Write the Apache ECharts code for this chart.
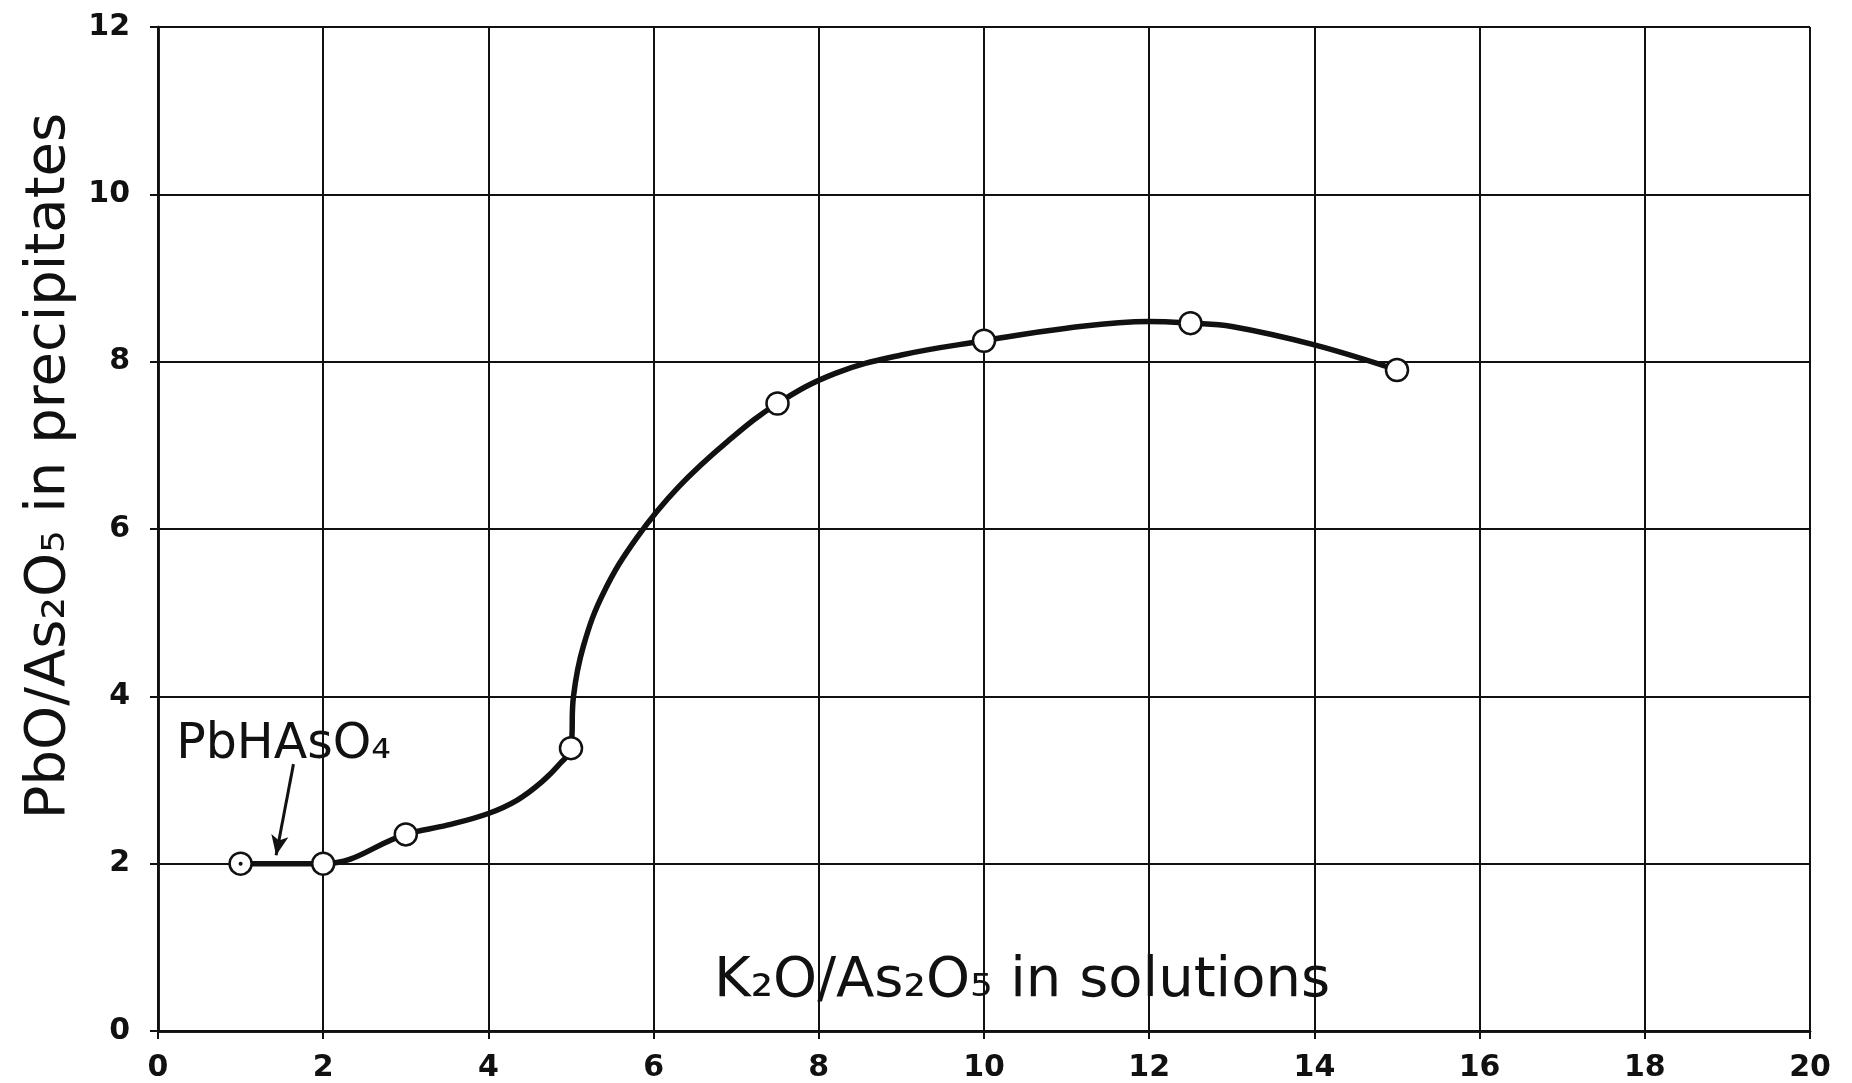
<!DOCTYPE html>
<html>
<head>
<meta charset="utf-8">
<title>PbO/As2O5 vs K2O/As2O5</title>
<script src="https://cdn.jsdelivr.net/npm/echarts@6/dist/echarts.min.js"></script>
<style>
  html, body { margin: 0; padding: 0; background: #fff; }
  #main { width: 1852px; height: 1083px; }
</style>
</head>
<body>
<div id="main"></div>
<script>
// measured points (open circles)
const pointsX = [1, 2, 3, 5, 7.5, 10, 12.5, 15];
const pointsY = [2, 2, 2.35, 3.38, 7.5, 8.25, 8.46, 7.9];

// hand drawn curve
const curveX = [1, 2, 3, 3.5, 4, 4.35, 4.65, 4.87, 5, 5.03, 5.15, 5.4, 5.8, 6.3, 6.9, 7.5, 8.2, 9, 10, 11, 12, 12.5, 13, 14, 15];
const curveY = [2, 2, 2.35, 2.46, 2.6, 2.76, 2.98, 3.2, 3.38, 4.0, 4.6, 5.25, 5.9, 6.5, 7.05, 7.5, 7.86, 8.08, 8.25, 8.4, 8.48, 8.46, 8.42, 8.2, 7.9];

// axis ranges / ticks
const xTicks = [0, 2, 4, 6, 8, 10, 12, 14, 16, 18, 20];
const yTicks = [0, 2, 4, 6, 8, 10, 12];

// annotation
const noteText = 'PbHAsO₄';
const notePos = [0.22, 3.42];
const arrowFrom = [1.64, 3.19];
const arrowTo = [1.43, 2.1];

let chart = echarts.init(document.getElementById('main'));
let ink = '#111';
let font = 'DejaVu Sans';

let option = {
    backgroundColor: '#fff',
    animation: false,
    grid: {
        left: 158,
        right: 42,
        top: 27,
        bottom: 52,
        containLabel: false
    },
    xAxis: [{
        type: 'value',
        min: xTicks[0],
        max: xTicks[xTicks.length - 1],
        interval: 2,
        name: 'K₂O/As₂O₅ in solutions',
        nameLocation: 'middle',
        nameGap: -78,
        nameTextStyle: {
            color: ink,
            fontFamily: font,
            fontSize: 56,
            padding: [0, 0, 0, 76]
        },
        axisLine: { lineStyle: { color: ink, width: 2.5 } },
        axisTick: { show: true, length: 8, lineStyle: { color: ink, width: 2 } },
        axisLabel: {
            margin: 22,
            color: ink,
            fontFamily: font,
            fontWeight: 'bold',
            fontSize: 30
        },
        splitLine: { show: true, lineStyle: { color: ink, width: 2 } }
    }, {
        // top frame, ticks poke out a bit
        type: 'value',
        position: 'top',
        min: xTicks[0],
        max: xTicks[xTicks.length - 1],
        interval: 2,
        axisLine: { show: true, lineStyle: { color: ink, width: 2.5 } },
        axisTick: { show: true, length: 8, lineStyle: { color: ink, width: 2 } },
        axisLabel: { show: false },
        splitLine: { show: false }
    }],
    yAxis: [{
        type: 'value',
        min: yTicks[0],
        max: yTicks[yTicks.length - 1],
        interval: 2,
        name: 'PbO/As₂O₅ in precipitates',
        nameLocation: 'middle',
        nameGap: 67,
        nameRotate: 90,
        nameTextStyle: {
            color: ink,
            fontFamily: font,
            fontSize: 56,
            padding: [0, 0, 0, 126]
        },
        axisLine: { show: true, lineStyle: { color: ink, width: 2.5 } },
        axisTick: { show: true, length: 8, lineStyle: { color: ink, width: 2 } },
        axisLabel: {
            margin: 28,
            color: ink,
            fontFamily: font,
            fontWeight: 'bold',
            fontSize: 30
        },
        splitLine: { show: true, lineStyle: { color: ink, width: 2 } }
    }, {
        type: 'value',
        position: 'right',
        min: yTicks[0],
        max: yTicks[yTicks.length - 1],
        interval: 2,
        axisLine: { show: true, lineStyle: { color: ink, width: 2.5 } },
        axisTick: { show: true, length: 7, lineStyle: { color: ink, width: 2 } },
        axisLabel: { show: false },
        splitLine: { show: false }
    }],
    series: [{
        name: 'curve',
        type: 'line',
        data: curveX.map((x, i) => [x, curveY[i]]),
        smooth: 0.4,
        showSymbol: false,
        lineStyle: { color: ink, width: 5.5 },
        z: 3
    }, {
        name: 'points',
        type: 'scatter',
        data: pointsX.map((x, i) => [x, pointsY[i]]),
        symbol: 'circle',
        symbolSize: 22,
        itemStyle: {
            color: '#fff',
            borderColor: ink,
            borderWidth: 2.5,
            opacity: 1
        },
        z: 5,
        markPoint: {
            silent: true,
            symbol: 'circle',
            symbolSize: 0,
            data: [{ coord: notePos }],
            label: {
                show: true,
                position: 'right',
                distance: 0,
                formatter: noteText,
                color: ink,
                fontFamily: font,
                fontSize: 49
            }
        },
        markLine: {
            silent: true,
            symbol: ['none', 'arrow'],
            symbolSize: [13, 20],
            label: { show: false },
            lineStyle: { color: ink, width: 3, type: 'solid', curveness: 0.45 },
            data: [[
                { coord: arrowFrom, lineStyle: { curveness: 0.45 } },
                { coord: arrowTo }
            ]]
        }
    }, {
        // the little dot inside the first circle
        name: 'dot',
        type: 'scatter',
        data: [[pointsX[0], pointsY[0]]],
        symbolSize: 4,
        itemStyle: { color: ink, opacity: 1 },
        z: 6
    }]
};
chart.setOption(option);
</script>
</body>
</html>
